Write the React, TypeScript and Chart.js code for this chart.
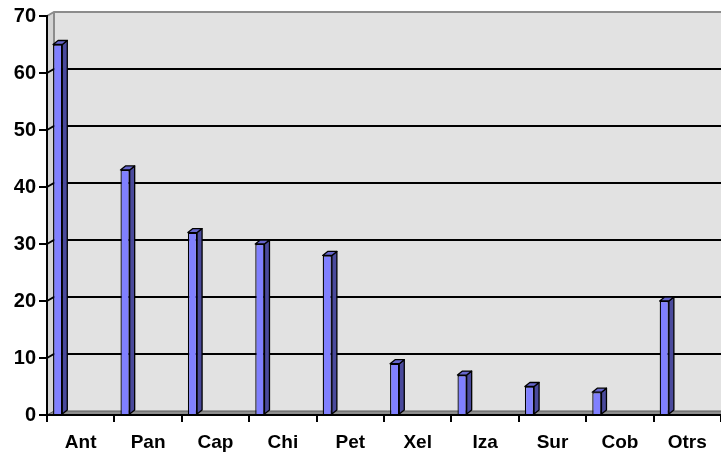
import React, { useEffect, useRef } from "react";
import { Chart, registerables } from "chart.js";

Chart.register(...registerables);

const categories = ["Ant", "Pan", "Cap", "Chi", "Pet", "Xel", "Iza", "Sur", "Cob", "Otrs"];
const values = [65, 43, 32, 30, 28, 9, 7, 5, 4, 20];
const yTicks = [0, 10, 20, 30, 40, 50, 60, 70];

const WALL_DX = 7;
const WALL_DY = -4;
const BAR_DX = 5;
const BAR_DY = -4;

const wallPlugin = {
  id: "walls",
  beforeDraw(chart: any) {
    const { ctx, chartArea, scales } = chart;
    const y = scales.y;
    const { left, right, top, bottom } = chartArea;
    ctx.save();
    ctx.fillStyle = "#E2E2E2";
    ctx.fillRect(left + WALL_DX, top + WALL_DY, right - left - WALL_DX, bottom - top);
    ctx.fillStyle = "#D4D4D4";
    ctx.beginPath();
    ctx.moveTo(left, top);
    ctx.lineTo(left + WALL_DX, top + WALL_DY);
    ctx.lineTo(left + WALL_DX, bottom + WALL_DY);
    ctx.lineTo(left, bottom);
    ctx.closePath();
    ctx.fill();
    ctx.strokeStyle = "#8C8C8C";
    ctx.lineWidth = 2;
    ctx.beginPath();
    ctx.moveTo(left, top);
    ctx.lineTo(left + WALL_DX, top + WALL_DY);
    ctx.lineTo(right, top + WALL_DY);
    ctx.moveTo(left + WALL_DX, top + WALL_DY);
    ctx.lineTo(left + WALL_DX, bottom + WALL_DY);
    ctx.stroke();
    ctx.strokeStyle = "#000";
    ctx.lineWidth = 2;
    yTicks.forEach((v) => {
      if (v === 0 || v === 70) return;
      const py = y.getPixelForValue(v);
      ctx.beginPath();
      ctx.moveTo(left, py);
      ctx.lineTo(left + WALL_DX, py + WALL_DY);
      ctx.lineTo(right, py + WALL_DY);
      ctx.stroke();
    });
    ctx.fillStyle = "#8E8E8E";
    ctx.beginPath();
    ctx.moveTo(left, bottom);
    ctx.lineTo(left + WALL_DX, bottom + WALL_DY);
    ctx.lineTo(right, bottom + WALL_DY);
    ctx.lineTo(right, bottom);
    ctx.closePath();
    ctx.fill();
    ctx.strokeStyle = "#5A5A5A";
    ctx.lineWidth = 1;
    ctx.beginPath();
    ctx.moveTo(left, bottom);
    ctx.lineTo(left + WALL_DX, bottom + WALL_DY);
    ctx.lineTo(right, bottom + WALL_DY);
    ctx.stroke();
    ctx.restore();
  },
  afterDatasetsDraw(chart: any) {
    const { ctx } = chart;
    const meta = chart.getDatasetMeta(0);
    ctx.save();
    ctx.lineWidth = 1.3;
    ctx.strokeStyle = "#000";
    ctx.lineJoin = "round";
    meta.data.forEach((bar: any) => {
      const { x, y, base, width } = bar.getProps(["x", "y", "base", "width"], true);
      const l = x - width / 2;
      const r = x + width / 2;
      ctx.fillStyle = "#4A4A9C";
      ctx.beginPath();
      ctx.moveTo(r, y);
      ctx.lineTo(r + BAR_DX, y + BAR_DY);
      ctx.lineTo(r + BAR_DX, base + BAR_DY);
      ctx.lineTo(r, base);
      ctx.closePath();
      ctx.fill();
      ctx.stroke();
      ctx.fillStyle = "#6666CC";
      ctx.beginPath();
      ctx.moveTo(l, y);
      ctx.lineTo(l + BAR_DX, y + BAR_DY);
      ctx.lineTo(r + BAR_DX, y + BAR_DY);
      ctx.lineTo(r, y);
      ctx.closePath();
      ctx.fill();
      ctx.stroke();
    });
    ctx.restore();
  },
};

export default function App() {
  const ref = useRef<HTMLCanvasElement | null>(null);
  useEffect(() => {
    if (!ref.current) return;
    const family = "'Liberation Sans', Arial, sans-serif";
    const xFont = { family, size: 19, weight: "bold" as const };
    const yFont = { family, size: 20, weight: "bold" as const };
    const spacers = [1, 2, 3, 4, 5].map(() => ({
      data: [] as number[],
      backgroundColor: "transparent",
      borderWidth: 0,
    }));
    const chart = new Chart(ref.current, {
      type: "bar",
      data: {
        labels: categories,
        datasets: [
          {
            data: values,
            backgroundColor: "#8080FF",
            borderColor: "#000",
            borderWidth: 1.3,
          },
          ...spacers,
        ],
      },
      plugins: [wallPlugin],
      options: {
        animation: false,
        responsive: true,
        maintainAspectRatio: false,
        categoryPercentage: 0.82,
        barPercentage: 1,
        layout: { padding: { top: 16, right: 0, left: 0, bottom: 0 } },
        plugins: { legend: { display: false }, tooltip: { enabled: false } },
        scales: {
          x: {
            offset: true,
            grid: {
              offset: true,
              drawOnChartArea: false,
              tickLength: 7,
              color: "#000",
              lineWidth: 2,
            },
            border: { display: true, color: "#000", width: 2 },
            ticks: { font: xFont, color: "#000", padding: 9, maxRotation: 0, autoSkip: false },
            afterFit: (s: any) => {
              s.height = 42;
            },
          },
          y: {
            min: 0,
            max: 70,
            ticks: { stepSize: 10, font: yFont, color: "#000", padding: 3 },
            grid: {
              drawOnChartArea: false,
              tickLength: 8,
              color: "#000",
              lineWidth: 2,
            },
            border: { display: true, color: "#000", width: 2 },
            afterFit: (s: any) => {
              s.width = 47;
            },
          },
        },
      },
    });
    return () => chart.destroy();
  }, []);
  return (
    <div style={{ position: "absolute", left: 0, top: 0, width: 721, height: 457, background: "#fff" }}>
      <canvas ref={ref} />
    </div>
  );
}
